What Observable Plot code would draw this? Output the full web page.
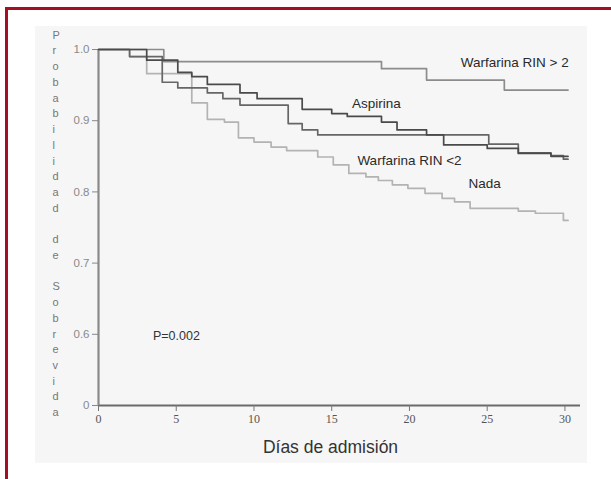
<!DOCTYPE html>
<html><head><meta charset="utf-8">
<script src="https://cdn.jsdelivr.net/npm/d3@7"></script>
<script src="https://cdn.jsdelivr.net/npm/@observablehq/plot@0.6"></script>
<style>
body{margin:0;background:#fff;}
#wrap{position:relative;width:611px;height:479px;overflow:hidden;font-family:"Liberation Sans",Arial,sans-serif;}
#frame{position:absolute;left:5px;top:7px;width:700px;height:600px;border:3px solid #a3101f;box-sizing:border-box;}
#panel{position:absolute;left:35px;top:26px;width:552px;height:437px;background:#f6f6f6;}
#chart{position:absolute;left:0;top:0;}
</style></head><body>
<div id="wrap"><div id="frame"></div><div id="panel"></div><div id="chart"></div></div>
<script>
const xTicks = [0, 5, 10, 15, 20, 25, 30];
const yTicks = [0.5, 0.6, 0.7, 0.8, 0.9, 1.0];
const yTickLabels = ["0", "0.6", "0.7", "0.8", "0.9", "1.0"];
const yLabel = "Probabilidad de Sobrevida";
const xLabel = "Días de admisión";
const pLabel = "P=0.002";

const seriesNames = ["Nada", "Warfarina RIN > 2", "Warfarina RIN <2", "Aspirina"];
const seriesColors = ["#b3b3b3", "#8c8c8c", "#666666", "#4a4a4a"];

const nadaDays = [0, 2.0, 3.1, 6.0, 7.0, 8.1, 9.0, 10.0, 11.1, 12.1, 14.1, 15.1, 16.1, 17.2, 18.0, 18.9, 19.9, 21.0, 22.1, 22.9, 23.9, 27.0, 28.1, 29.9, 30.2];
const nadaSurv = [1, 0.99, 0.966, 0.925, 0.902, 0.898, 0.876, 0.870, 0.863, 0.858, 0.849, 0.838, 0.826, 0.821, 0.816, 0.810, 0.805, 0.798, 0.791, 0.786, 0.777, 0.773, 0.770, 0.760, 0.760];
const warf2Days = [0, 4.2, 18.2, 21.1, 26.1, 30.2];
const warf2Surv = [1, 0.983, 0.973, 0.957, 0.943, 0.943];
const warf1Days = [0, 2.0, 4.1, 5.1, 7.0, 8.0, 9.1, 12.2, 13.1, 14.1, 25.1, 27.0, 29.1, 29.9, 30.2];
const warf1Surv = [1, 0.99, 0.954, 0.946, 0.939, 0.931, 0.922, 0.896, 0.887, 0.880, 0.867, 0.855, 0.851, 0.846, 0.846];
const aspDays = [0, 3.1, 5.1, 6.0, 7.0, 9.1, 10.2, 13.1, 15.0, 16.0, 18.2, 19.2, 21.1, 22.2, 25.0, 27.0, 29.1, 30.2];
const aspSurv = [1, 0.985, 0.968, 0.962, 0.951, 0.939, 0.931, 0.916, 0.910, 0.906, 0.898, 0.887, 0.880, 0.866, 0.861, 0.854, 0.850, 0.850];

// label anchor positions (data units), same order as seriesNames
const labelX = [23.8, 23.3, 16.65, 16.3];
const labelY = [0.812, 0.982, 0.844, 0.924];
const pX = 3.5, pY = 0.598;

const allDays = [nadaDays, warf2Days, warf1Days, aspDays];
const allSurv = [nadaSurv, warf2Surv, warf1Surv, aspSurv];
const rows = [];
seriesNames.forEach((s, i) => allDays[i].forEach((d, j) => rows.push({series: s, day: d, surv: allSurv[i][j]})));
const labels = seriesNames.map((s, i) => ({text: s, x: labelX[i], y: labelY[i]}));

const chart = Plot.plot({
  width: 611, height: 479,
  marginLeft: 98, marginRight: 31, marginTop: 49, marginBottom: 74,
  style: {background: "transparent", fontFamily: "Liberation Sans, Arial, sans-serif"},
  x: {domain: [0, 31]},
  y: {domain: [0.5, 1.0]},
  color: {domain: seriesNames, range: seriesColors},
  marks: [
    Plot.ruleY([0.5], {stroke: "#6a6a6a", strokeWidth: 2}),
    Plot.ruleX([0], {stroke: "#8a8a8a", strokeWidth: 2.2}),
    Plot.axisX({ticks: xTicks, tickSize: 6, tickPadding: 3, stroke: "#777", fill: "#555", fontSize: 12, fontFamily: "Liberation Serif, serif", label: null}),
    Plot.axisY({ticks: yTicks, tickFormat: d => yTickLabels[yTicks.indexOf(d)], tickSize: 6, tickPadding: 3, stroke: "#888", fill: "#8a8a8a", fontSize: 11.5, label: null}),
    Plot.line(rows, {x: "day", y: "surv", z: "series", stroke: "series", curve: "step-after", strokeWidth: 1.7}),
    Plot.text(labels, {x: "x", y: "y", text: "text", textAnchor: "start", fill: "#2a2a2a", fontSize: 13.5}),
    Plot.text([pLabel], {x: pX, y: pY, text: d => d, textAnchor: "start", fill: "#333", fontSize: 12.5}),
    Plot.text([xLabel], {frameAnchor: "bottom", dx: -9, dy: 47, text: d => d, fill: "#333", fontSize: 17.5}),
    Plot.text([yLabel.split("").join("\n")], {frameAnchor: "top-left", dx: -46, dy: -22, lineAnchor: "top", lineHeight: 1.43, text: d => d, fill: "#777", fontSize: 11})
  ]
});
document.getElementById("chart").appendChild(chart);
</script>
</body></html>
